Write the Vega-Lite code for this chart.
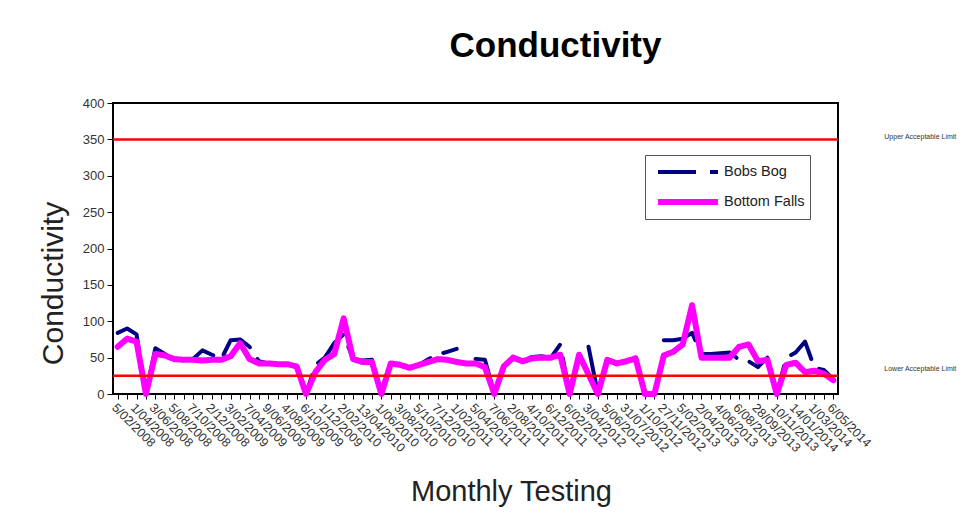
{
  "$schema": "https://vega.github.io/schema/vega-lite/v6.json",
  "width": 725,
  "height": 291,
  "autosize": {"type": "none"},
  "padding": {"left": 113, "top": 103, "right": 128, "bottom": 120},
  "background": "white",
  "title": {
    "text": "Conductivity",
    "font": "Liberation Sans",
    "fontSize": 35,
    "fontWeight": "bold",
    "color": "black",
    "anchor": "middle",
    "frame": "group",
    "dx": 80,
    "offset": 33
  },
  "config": {
    "view": {"stroke": "black", "strokeWidth": 2},
    "font": "Liberation Sans",
    "axis": {"grid": false, "domain": false, "tickColor": "black", "labelColor": "#333", "titleColor": "#222", "titleFontWeight": "normal", "labelFont": "Liberation Sans", "titleFont": "Liberation Sans"}
  },
  "datasets": {
    "readings": [
      {"date": "5/02/2008", "Bobs Bog": 84, "Bottom Falls": 65},
      {"date": "4/03/2008", "Bobs Bog": 90, "Bottom Falls": 76},
      {"date": "1/04/2008", "Bobs Bog": 82, "Bottom Falls": 72},
      {"date": "6/05/2008", "Bobs Bog": 0, "Bottom Falls": 0},
      {"date": "3/06/2008", "Bobs Bog": 63, "Bottom Falls": 55},
      {"date": "1/07/2008", "Bobs Bog": 55, "Bottom Falls": 53},
      {"date": "5/08/2008", "Bobs Bog": 48, "Bottom Falls": 48},
      {"date": "2/09/2008", "Bobs Bog": 47, "Bottom Falls": 47},
      {"date": "7/10/2008", "Bobs Bog": 48, "Bottom Falls": 47},
      {"date": "4/11/2008", "Bobs Bog": 60, "Bottom Falls": 46},
      {"date": "2/12/2008", "Bobs Bog": 54, "Bottom Falls": 47},
      {"date": "13/01/2009", "Bobs Bog": 48, "Bottom Falls": 47},
      {"date": "3/02/2009", "Bobs Bog": 74, "Bottom Falls": 52},
      {"date": "3/03/2009", "Bobs Bog": 75, "Bottom Falls": 70},
      {"date": "7/04/2009", "Bobs Bog": 65, "Bottom Falls": 48},
      {"date": "5/05/2009", "Bobs Bog": 45, "Bottom Falls": 42},
      {"date": "9/06/2009", "Bobs Bog": 42, "Bottom Falls": 42},
      {"date": "7/07/2009", "Bobs Bog": 41, "Bottom Falls": 41},
      {"date": "4/08/2009", "Bobs Bog": 41, "Bottom Falls": 41},
      {"date": "1/09/2009", "Bobs Bog": 38, "Bottom Falls": 38},
      {"date": "6/10/2009", "Bobs Bog": 0, "Bottom Falls": 0},
      {"date": "3/11/2009", "Bobs Bog": 40, "Bottom Falls": 30},
      {"date": "1/12/2009", "Bobs Bog": 50, "Bottom Falls": 47},
      {"date": "12/01/2010", "Bobs Bog": 70, "Bottom Falls": 55},
      {"date": "2/02/2010", "Bobs Bog": 82, "Bottom Falls": 104},
      {"date": "2/03/2010", "Bobs Bog": 48, "Bottom Falls": 48},
      {"date": "13/04/2010", "Bobs Bog": 46, "Bottom Falls": 44},
      {"date": "4/05/2010", "Bobs Bog": 47, "Bottom Falls": 44},
      {"date": "1/06/2010", "Bobs Bog": 0, "Bottom Falls": 0},
      {"date": "6/07/2010", "Bobs Bog": 42, "Bottom Falls": 42},
      {"date": "3/08/2010", "Bobs Bog": 40, "Bottom Falls": 40},
      {"date": "7/09/2010", "Bobs Bog": 36, "Bottom Falls": 36},
      {"date": "5/10/2010", "Bobs Bog": 40, "Bottom Falls": 40},
      {"date": "2/11/2010", "Bobs Bog": 48, "Bottom Falls": 44},
      {"date": "7/12/2010", "Bobs Bog": 54, "Bottom Falls": 48},
      {"date": "11/01/2011", "Bobs Bog": 58, "Bottom Falls": 47},
      {"date": "1/02/2011", "Bobs Bog": 62, "Bottom Falls": 44},
      {"date": "1/03/2011", "Bobs Bog": null, "Bottom Falls": 42},
      {"date": "5/04/2011", "Bobs Bog": 48, "Bottom Falls": 42},
      {"date": "3/05/2011", "Bobs Bog": 47, "Bottom Falls": 37},
      {"date": "7/06/2011", "Bobs Bog": 0, "Bottom Falls": 0},
      {"date": "5/07/2011", "Bobs Bog": 38, "Bottom Falls": 38},
      {"date": "2/08/2011", "Bobs Bog": 50, "Bottom Falls": 50},
      {"date": "6/09/2011", "Bobs Bog": 45, "Bottom Falls": 45},
      {"date": "4/10/2011", "Bobs Bog": 51, "Bottom Falls": 49},
      {"date": "1/11/2011", "Bobs Bog": 52, "Bottom Falls": 50},
      {"date": "6/12/2011", "Bobs Bog": 50, "Bottom Falls": 50},
      {"date": "10/01/2012", "Bobs Bog": 68, "Bottom Falls": 54},
      {"date": "6/02/2012", "Bobs Bog": 0, "Bottom Falls": 0},
      {"date": "6/03/2012", "Bobs Bog": null, "Bottom Falls": 54},
      {"date": "3/04/2012", "Bobs Bog": 65, "Bottom Falls": 27},
      {"date": "1/05/2012", "Bobs Bog": 0, "Bottom Falls": 0},
      {"date": "5/06/2012", "Bobs Bog": 47, "Bottom Falls": 47},
      {"date": "3/07/2012", "Bobs Bog": 42, "Bottom Falls": 42},
      {"date": "31/07/2012", "Bobs Bog": 45, "Bottom Falls": 45},
      {"date": "4/09/2012", "Bobs Bog": 49, "Bottom Falls": 49},
      {"date": "1/10/2012", "Bobs Bog": 0, "Bottom Falls": 0},
      {"date": "30/10/2012", "Bobs Bog": null, "Bottom Falls": 0},
      {"date": "27/11/2012", "Bobs Bog": 74, "Bottom Falls": 53},
      {"date": "15/01/2013", "Bobs Bog": 74, "Bottom Falls": 58},
      {"date": "5/02/2013", "Bobs Bog": 76, "Bottom Falls": 68},
      {"date": "5/03/2013", "Bobs Bog": 84, "Bottom Falls": 122},
      {"date": "2/04/2013", "Bobs Bog": 55, "Bottom Falls": 50},
      {"date": "7/05/2013", "Bobs Bog": 55, "Bottom Falls": 50},
      {"date": "4/06/2013", "Bobs Bog": 56, "Bottom Falls": 50},
      {"date": "2/07/2013", "Bobs Bog": 57, "Bottom Falls": 50},
      {"date": "6/08/2013", "Bobs Bog": 47, "Bottom Falls": 65},
      {"date": "3/09/2013", "Bobs Bog": 45, "Bottom Falls": 68},
      {"date": "28/09/2013", "Bobs Bog": 37, "Bottom Falls": 45},
      {"date": "15/10/2013", "Bobs Bog": 50, "Bottom Falls": 47},
      {"date": "10/11/2013", "Bobs Bog": 0, "Bottom Falls": 0},
      {"date": "10/12/2013", "Bobs Bog": 50, "Bottom Falls": 40},
      {"date": "14/01/2014", "Bobs Bog": 57, "Bottom Falls": 43},
      {"date": "4/02/2014", "Bobs Bog": 72, "Bottom Falls": 30},
      {"date": "1/03/2014", "Bobs Bog": 36, "Bottom Falls": 32},
      {"date": "1/04/2014", "Bobs Bog": 33, "Bottom Falls": 28},
      {"date": "6/05/2014", "Bobs Bog": 20, "Bottom Falls": 19}
    ],
    "limits": [
      {"limit": "Upper Acceptable Limit", "value": 350},
      {"limit": "Lower Acceptable Limit", "value": 25}
    ]
  },
  "encoding": {
    "y": {
      "field": "value", "type": "quantitative",
      "scale": {"domain": [0, 400], "nice": false},
      "axis": {
        "title": "Conductivity",
        "titleFontSize": 30,
        "titleX": -51,
        "titleY": 180,
        "titleAngle": -90,
        "titleBaseline": "alphabetic",
        "titleAlign": "center",
        "titleAnchor": null,
        "values": [0, 50, 100, 150, 200, 250, 300, 350, 400],
        "labelOverlap": false,
        "labelFontSize": 13,
        "labelPadding": 3,
        "tickSize": 6
      }
    }
  },
  "layer": [
    {
      "data": {"name": "readings"},
      "transform": [{"fold": ["Bobs Bog", "Bottom Falls"], "as": ["site", "value"]}],
      "mark": {"type": "line", "strokeCap": "round", "strokeJoin": "round"},
      "encoding": {
        "x": {
          "field": "date", "type": "nominal", "sort": null,
          "scale": {"type": "point", "padding": 0.5},
          "axis": {
            "title": "Monthly Testing",
            "titleFontSize": 29,
            "titleX": 398,
            "titleY": 106,
            "titleBaseline": "alphabetic",
            "titleAnchor": null,
            "labelAngle": 45,
            "labelFontSize": 12.5,
            "labelPadding": 2,
            "labelOverlap": false,
            "tickSize": 5,
            "labelExpr": "indexof(['5/02/2008','1/04/2008','3/06/2008','5/08/2008','7/10/2008','2/12/2008','3/02/2009','7/04/2009','9/06/2009','4/08/2009','6/10/2009','1/12/2009','2/02/2010','13/04/2010','1/06/2010','3/08/2010','5/10/2010','7/12/2010','1/02/2011','5/04/2011','7/06/2011','2/08/2011','4/10/2011','6/12/2011','6/02/2012','3/04/2012','5/06/2012','31/07/2012','1/10/2012','27/11/2012','5/02/2013','2/04/2013','4/06/2013','6/08/2013','28/09/2013','10/11/2013','14/01/2014','1/03/2014','6/05/2014'], datum.value) >= 0 ? datum.value : ''"
          }
        },
        "color": {
          "field": "site", "type": "nominal",
          "scale": {"domain": ["Bobs Bog", "Bottom Falls"], "range": ["#000080", "#FF00FF"]},
          "legend": {
            "title": null,
            "orient": "none",
            "legendX": 532,
            "legendY": 52,
            "fillColor": "white",
            "strokeColor": "#555",
            "padding": 5,
            "symbolType": "M-0.5,0H5.5",
            "symbolSize": 400,
            "symbolStrokeWidth": 5,
            "labelFontSize": 14.5,
            "labelColor": "#222",
            "labelLimit": 200,
            "rowPadding": 9,
            "labelOffset": 48
          }
        },
        "strokeDash": {
          "field": "site", "type": "nominal",
          "scale": {"domain": ["Bobs Bog", "Bottom Falls"], "range": [[38, 14], [1, 0]]},
          "legend": {
            "title": null,
            "orient": "none",
            "legendX": 532,
            "legendY": 52,
            "fillColor": "white",
            "strokeColor": "#555",
            "padding": 5,
            "symbolType": "M-0.5,0H5.5",
            "symbolSize": 400,
            "symbolStrokeWidth": 5,
            "labelFontSize": 14.5,
            "labelColor": "#222",
            "labelLimit": 200,
            "rowPadding": 9,
            "labelOffset": 48
          }
        },
        "strokeWidth": {
          "field": "site", "type": "ordinal",
          "scale": {"domain": ["Bobs Bog", "Bottom Falls"], "range": [4, 6]},
          "legend": null
        }
      }
    },
    {
      "data": {"name": "limits"},
      "mark": {"type": "rule", "color": "#FF0000", "strokeWidth": 2.5},
      "encoding": {}
    },
    {
      "data": {"values": [{"limit": "Upper Acceptable Limit", "value": 350}]},
      "mark": {"type": "text", "font": "Liberation Sans", "fontSize": 7, "color": "#333", "align": "center", "dx": 87, "dy": -2},
      "encoding": {
        "x": {"datum": "6/05/2014"},
        "text": {"field": "limit"}
      }
    },
    {
      "data": {"values": [{"limit": "Lower Acceptable Limit", "value": 25}]},
      "mark": {"type": "text", "font": "Liberation Sans", "fontSize": 7, "color": "#333", "align": "center", "dx": 87, "dy": -7},
      "encoding": {
        "x": {"datum": "6/05/2014"},
        "text": {"field": "limit"}
      }
    }
  ]
}
